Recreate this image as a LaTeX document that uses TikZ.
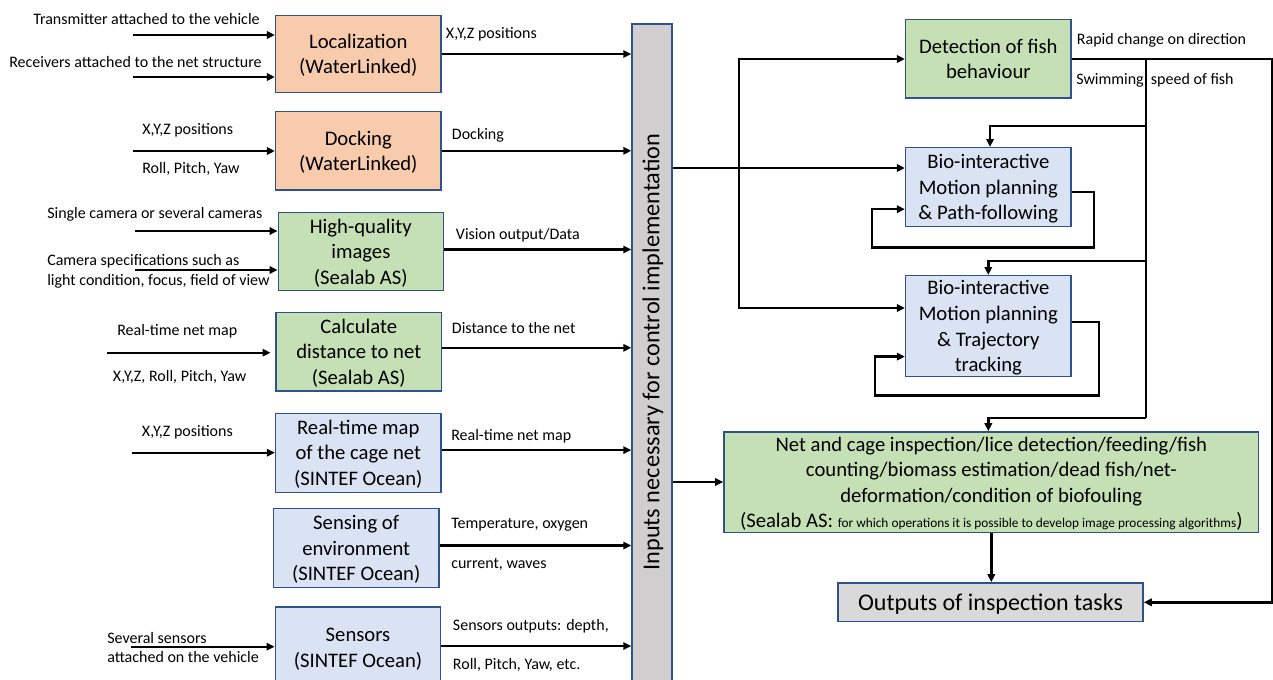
\documentclass[tikz,border=0pt]{standalone}
\usepackage{fontspec}
\setmainfont{Carlito}
\usetikzlibrary{arrows.meta,calc}
\definecolor{peach}{HTML}{F8CBAD}
\definecolor{lgreen}{HTML}{C5E0B4}
\definecolor{lblue}{HTML}{DAE3F3}
\definecolor{bargray}{HTML}{D0CECE}
\definecolor{outgray}{HTML}{D9D9D9}
\definecolor{bord}{HTML}{2F528F}
\begin{document}
\begin{tikzpicture}[x=0.75pt,y=-0.75pt,
  box/.style={draw=bord,line width=1.1pt,align=center,inner sep=0pt,text depth=0pt,font=\fontsize{15.5}{19.2}\selectfont},
  lab/.style={font=\fontsize{12}{14}\selectfont,inner sep=0pt,anchor=west},
  ln/.style={line width=1.8pt},
  arr/.style={ln,-{Triangle[length=6pt,width=5.5pt]}},
  arrb/.style={ln,{Triangle[length=6pt,width=5.5pt]}-{Triangle[length=6pt,width=5.5pt]}},
]
\useasboundingbox (0,0) rectangle (1273,679);

% left boxes
\node[box,fill=peach,minimum width=124pt,minimum height=58pt] (loc) at (358.3,54) {Localization\\(WaterLinked)};
\node[box,fill=peach,minimum width=124pt,minimum height=58.7pt] (dock) at (358.3,150.8) {Docking\\(WaterLinked)};
\node[box,fill=lgreen,minimum width=123.75pt,minimum height=58.8pt] (hq) at (360.8,251.5) {High-quality\\images\\(Sealab AS)};
\node[box,fill=lgreen,minimum width=124.3pt,minimum height=58.7pt] (calc) at (358.8,351.8) {Calculate\\distance to net\\(Sealab AS)};
\node[box,fill=lblue,minimum width=124pt,minimum height=59.2pt] (rtm) at (358.3,452.8) {Real-time map\\of the cage net\\(SINTEF Ocean)};
\node[box,fill=lblue,minimum width=124pt,minimum height=59.2pt] (sense) at (356.2,548.2) {Sensing of\\environment\\(SINTEF Ocean)};
\node[box,fill=lblue,minimum width=124pt,minimum height=61.5pt] (sens) at (358,648) {Sensors\\(SINTEF Ocean)};

% central bar
\node[box,fill=bargray,minimum width=30pt,minimum height=499.5pt] (bar) at (652,357) {};
\node[rotate=90,inner sep=0pt,font=\fontsize{18.2}{21}\selectfont] (bartext) at (653,352) {Inputs necessary for control implementation};

% right boxes
\node[box,fill=lgreen,minimum width=124pt,minimum height=59pt] (det) at (988.3,58.7) {Detection of fish\\behaviour};
\node[box,fill=lblue,minimum width=124pt,minimum height=59.2pt] (bio1) at (988.3,187.2) {Bio-interactive\\Motion planning\\\& Path-following};
\node[box,fill=lblue,minimum width=124pt,minimum height=75.7pt] (bio2) at (988.3,326.2) {Bio-interactive\\Motion planning\\\& Trajectory\\tracking};
\node[box,fill=lgreen,minimum width=401pt,minimum height=75.5pt] (net) at (991.3,482.3) {Net and cage inspection/lice detection/feeding/fish\\counting/biomass estimation/dead fish/net-\\deformation/condition of biofouling\\(Sealab AS: {\fontsize{10}{11}\selectfont for which operations it is possible to develop image processing algorithms})};
\node[box,fill=outgray,minimum width=228.75pt,minimum height=29pt,font=\fontsize{18}{21}\selectfont] (out) at (990.5,602.3) {Outputs of inspection tasks};

% left inputs
\coordinate (a1) at (133,35);
\coordinate (a2) at (133,77);
\coordinate (a3) at (133,151);
\coordinate (a4) at (135,231);
\coordinate (a5) at (135,270);
\coordinate (a6) at (107,352.7);
\coordinate (a7) at (132,452.7);
\coordinate (a8) at (131,646.7);
\draw[arr] (a1) -- (a1 -| loc.west);
\draw[arr] (a2) -- (a2 -| loc.west);
\draw[arr] (a3) -- (a3 -| dock.west);
\draw[arr] (a4) -- (a4 -| hq.west);
\draw[arr] (a5) -- (a5 -| hq.west);
\draw[arr,shorten >=3.5pt] (a6) -- (a6 -| calc.west);
\draw[arr] (a7) -- (a7 -| rtm.west);
\draw[arr] (a8) -- (a8 -| sens.west);

\node[lab] (t1) at (33,19) {Transmitter attached to the vehicle};
\node[lab] (t2) at (9,62) {Receivers attached to the net structure};
\node[lab] (t3) at (142,130) {X,Y,Z positions};
\node[lab] (t4) at (142,169) {Roll, Pitch, Yaw};
\node[lab] (t5) at (47,214) {Single camera or several cameras};
\node[lab] (t6) at (47,261) {Camera specifications such as};
\node[lab] (t7) at (47,281) {light condition, focus, field of view};
\node[lab] (t8) at (117,331.7) {Real-time net map};
\node[lab] (t9) at (112.7,376.7) {X,Y,Z, Roll, Pitch, Yaw};
\node[lab] (t10) at (141.7,432) {X,Y,Z positions};
\node[lab] (t11) at (107,637.7) {Several sensors};
\node[lab] (t12) at (107,656.7) {attached on the vehicle};

% outputs to bar
\draw[arr] (loc.east) -- (loc.east -| bar.west);
\draw[arr] (dock.east) -- (dock.east -| bar.west);
\draw[arr] ([yshift=1.5pt]hq.east) -- ([yshift=1.5pt]hq.east -| bar.west);
\draw[arr] ([yshift=3pt]calc.east) -- ([yshift=3pt]calc.east -| bar.west);
\draw[arr] ([yshift=2pt]rtm.east) -- ([yshift=2pt]rtm.east -| bar.west);
\draw[arr] ([yshift=2pt]sense.east) -- ([yshift=2pt]sense.east -| bar.west);
\draw[arr] ([yshift=1.5pt]sens.east) -- ([yshift=1.5pt]sens.east -| bar.west);

\node[lab] (o1) at (445.7,34.5) {X,Y,Z positions};
\node[lab] (o2) at (451.7,135.8) {Docking};
\node[lab] (o3) at (455.7,235) {Vision output/Data};
\node[lab] (o4) at (451.7,328.4) {Distance to the net};
\node[lab] (o5) at (451,436.6) {Real-time net map};
\node[lab] (o6) at (451,525) {Temperature, oxygen};
\node[lab] (o7) at (451,564.7) {current, waves};
\node[lab] (o8) at (452.7,625.9) {Sensors outputs: depth,};
\node[lab] (o9) at (452.7,665) {Roll, Pitch, Yaw, etc.};

% bar to right side
\coordinate (bo1) at (bar.east |- 0,168);
\coordinate (bo2) at (bar.east |- 0,482);
\coordinate (vt) at (739,59);
\coordinate (vb) at (739,308);
\draw[arr] (bo1) -- (bo1 -| bio1.west);
\draw[arrb] (vt -| det.west) -- (vt) -- (vb) -- (vb -| bio2.west);
\draw[arr] (bo2) -- (bo2 -| net.west);

% detection outputs
\coordinate (rt) at (1272,0);
\coordinate (k1) at (1146,125.7);
\coordinate (k2) at (1146,260.7);
\coordinate (k3) at (1146,417.7);
\draw[arr] (det.east) -- (det.east -| rt) |- (out.east);
\draw[ln] (det.east -| k1) -- (k3);
\draw[arr] (k1) -| ([xshift=1.3pt]bio1.north);
\draw[arr] (k2) -| (bio2.north);
\draw[arr] (k3) -| (net.north -| bio2.north);
\node[lab] (r1) at (1076.7,40) {Rapid change on direction};
\node[lab] (r2) at (1076,80) {Swimming\ \ speed of fish};

% feedback loops
\draw[arr] ([yshift=-3.8pt]bio1.east) -- ++(22,0) |- (872,247.3) |- ([yshift=-16.5pt]bio1.west);
\draw[arr] ([yshift=3pt]bio2.east) -- ++(27,0) |- (875,395.5) |- ([yshift=-22.8pt]bio2.west);

% net to outputs
\draw[arr] (net.south) -- (net.south |- out.north);
\end{tikzpicture}
\end{document}
